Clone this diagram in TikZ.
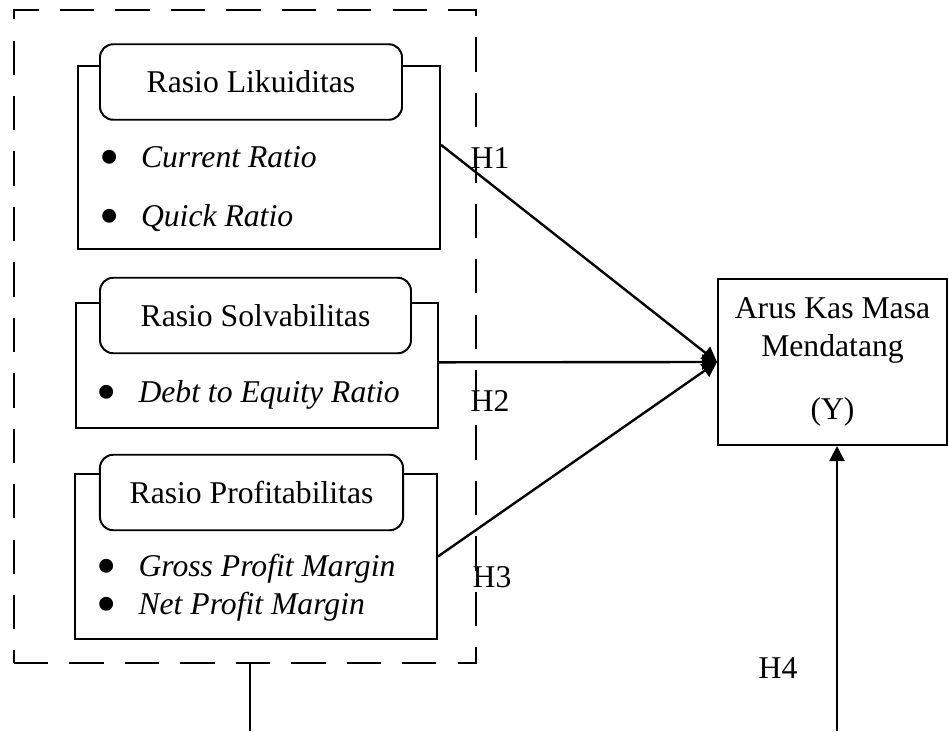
\documentclass[tikz,border=0pt]{standalone}
\usepackage{fontspec}
\setmainfont{Liberation Serif}
\usetikzlibrary{positioning,arrows.meta}

\newcommand{\dotitem}[1]{\makebox[15.9pt][l]{\raisebox{-3.4pt}[0pt][0pt]{\fontsize{22}{22}\selectfont\textbullet}}\textit{#1}}

\begin{document}
\begin{tikzpicture}[
  x=0.3788pt, y=-0.3788pt,
  font=\fontsize{12}{14.4}\selectfont,
  group/.style={draw=black, line width=.75pt, minimum width=137.1pt, inner sep=0pt},
  head/.style={draw=black, rounded corners=5pt, fill=white, line width=.75pt, minimum height=28.6pt, inner sep=0pt},
  item/.style={anchor=west, inner sep=0pt},
  outcome/.style={draw=black, line width=.75pt, align=center, minimum width=86.7pt, minimum height=62.9pt, inner sep=0pt},
  frame/.style={draw=black, dash pattern=on 13pt off 8pt, line width=.75pt, minimum width=175pt, minimum height=247.4pt, inner sep=0pt},
  hyp/.style={inner sep=0pt},
  arrow/.style={-{Triangle[length=5.7pt, width=5.7pt]}, draw=black, line width=.9pt}
]
\useasboundingbox (0,0) rectangle (949,731);
\node[frame] (ratios) at (245,336.5) {};
\node[group, minimum height=69.3pt] (lik) at (259,157.5) {};
\node[head, minimum width=114.4pt] (likhead) at (251,82) {Rasio Likuiditas};
\node[item] (cr) at (98.5,157.5) {\dotitem{Current Ratio}};
\node[item] (qr) at (98.5,218) {\dotitem{Quick Ratio}};
\node[group, minimum height=47.4pt] (solv) at (257,365.5) {};
\node[head, minimum width=117.8pt] (solvhead) at (255.5,315.5) {Rasio Solvabilitas};
\node[item] (der) at (96,395) {\dotitem{Debt to Equity Ratio}};
\node[group, minimum height=62.5pt] (prof) at (256,556.5) {};
\node[head, minimum width=114.8pt] (profhead) at (251.5,492.5) {Rasio Profitabilitas};
\node[item] (gpm) at (96,569) {\dotitem{Gross Profit Margin}};
\node[item] (npm) at (96,607) {\dotitem{Net Profit Margin}};
\node[outcome] (Y) at (832.5,362) {Arus Kas Masa\\Mendatang\\[9.5pt](Y)};
\node[hyp] (h1) at (490,158) {H1};
\node[hyp] (h2) at (490,401) {H2};
\node[hyp] (h3) at (492,577) {H3};
\node[hyp] (h4) at (778,668) {H4};
\coordinate (h4base) at (837,731);
\coordinate (tail) at (250,731);
\draw[arrow] (lik.4.6) -- (Y.west);
\draw[arrow] (solv.1.7) -- (Y.west);
\draw[arrow] (prof.east) -- (Y.west);
\draw[arrow] (h4base) -- (h4base |- Y.south);
\draw[line width=.75pt] (tail) -- (tail |- ratios.south);
\end{tikzpicture}
\end{document}
